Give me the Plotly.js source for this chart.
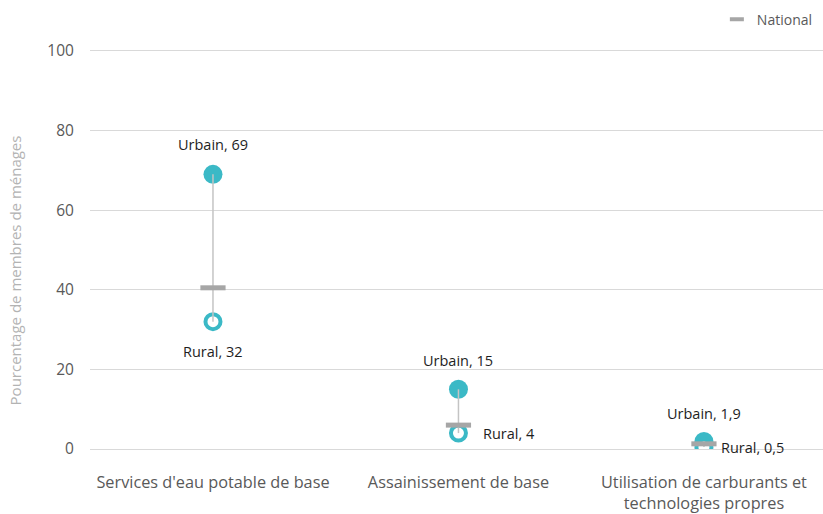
<!DOCTYPE html>
<html>
<head>
<meta charset="utf-8">
<script src="https://cdn.plot.ly/plotly-3.0.1.min.js"></script>
<style>html,body{margin:0;padding:0;background:#fff;}#chart{width:823px;height:514px;}</style>
</head>
<body>
<div id="chart"></div>
<script>
// Data
const categories = ["Services d'eau potable de base", "Assainissement de base", "Utilisation de carburants et<br>technologies propres"];
const urbain = [69, 15, 1.9];
const rural = [32, 4, 0.5];
const national = [40.5, 6, 1.3];
const yTicks = [0, 20, 40, 60, 80, 100];

// Label placement (style only)
const urbainLabelShift = [[0, 30], [0, 29], [0, 28]];
const ruralLabelShift = [[0, -30], [51, 0], [49, 0]];

const teal = '#3bb9c6';
const xs = categories.map((c, i) => i);
const fmt = v => String(v).replace('.', ',');

const rangeX = [], rangeY = [];
xs.forEach((x, i) => { rangeX.push(x, x, null); rangeY.push(urbain[i], rural[i], null); });

const traces = [
  { x: xs, y: urbain, mode: 'markers', type: 'scatter', name: 'Urbain', showlegend: false,
    marker: { symbol: 'circle', size: 19, color: teal }, hoverinfo: 'y' },
  { x: xs, y: rural, mode: 'markers', type: 'scatter', name: 'Rural', showlegend: false,
    marker: { symbol: 'circle', size: 15, color: '#ffffff', line: { color: teal, width: 4 } }, hoverinfo: 'y' },
  { x: rangeX, y: rangeY, mode: 'lines', type: 'scatter', showlegend: false, hoverinfo: 'skip',
    line: { color: '#c4c4c4', width: 1.5 }, connectgaps: false },
  { x: xs, y: national, mode: 'markers', type: 'scatter', name: 'National', showlegend: false,
    marker: { symbol: 'line-ew', size: 18, color: '#a6a6a6', line: { color: '#a6a6a6', width: 5 } }, hoverinfo: 'y' },
  { x: [null], y: [null], mode: 'markers', type: 'scatter', name: 'National', showlegend: true,
    marker: { symbol: 'line-ew', size: 10, color: '#a6a6a6', line: { color: '#a6a6a6', width: 4 } } }
];

const annotations = [];
xs.forEach((x, i) => {
  annotations.push({ x: x, y: urbain[i], xref: 'x', yref: 'y', text: 'Urbain, ' + fmt(urbain[i]), showarrow: false,
    xshift: urbainLabelShift[i][0], yshift: urbainLabelShift[i][1], font: { size: 14.5, color: '#1e1e1e' } });
  annotations.push({ x: x, y: rural[i], xref: 'x', yref: 'y', text: 'Rural, ' + fmt(rural[i]), showarrow: false,
    xshift: ruralLabelShift[i][0], yshift: ruralLabelShift[i][1], font: { size: 14.5, color: '#1e1e1e' } });
});
annotations.push({ xref: 'paper', yref: 'paper', x: -0.103, y: 0.443, xanchor: 'center', yanchor: 'middle',
  text: 'Pourcentage de membres de ménages', textangle: -90, showarrow: false,
  font: { size: 15, color: '#b3b3b3' } });

const layout = {
  width: 823, height: 514,
  margin: { l: 90, r: 0, t: 47, b: 65, pad: 0, autoexpand: false },
  paper_bgcolor: '#ffffff', plot_bgcolor: '#ffffff',
  font: { family: '"Open Sans", Roboto, sans-serif', color: '#595959' },
  showlegend: true,
  legend: { orientation: 'h', x: 0.993, xanchor: 'right', y: 1.068, yanchor: 'middle',
    font: { size: 14, color: '#595959' }, itemwidth: 30, bgcolor: 'rgba(0,0,0,0)' },
  xaxis: { range: [-0.501, 2.485], tickvals: xs, ticktext: categories, showgrid: false, zeroline: false,
    showline: false, ticks: 'outside', ticklen: 18, tickcolor: 'rgba(0,0,0,0)',
    tickfont: { size: 16.3, color: '#595959' }, fixedrange: true },
  yaxis: { range: [0, 101], tickvals: yTicks, showgrid: true, gridcolor: '#d9d9d9', gridwidth: 1,
    zeroline: true, zerolinecolor: '#d9d9d9', zerolinewidth: 1, showline: false,
    ticks: 'outside', ticklen: 12, tickcolor: 'rgba(0,0,0,0)',
    tickfont: { size: 15.5, color: '#595959' }, fixedrange: true },
  annotations: annotations
};

Plotly.newPlot('chart', traces, layout, { displayModeBar: false, staticPlot: true });
</script>
</body>
</html>
